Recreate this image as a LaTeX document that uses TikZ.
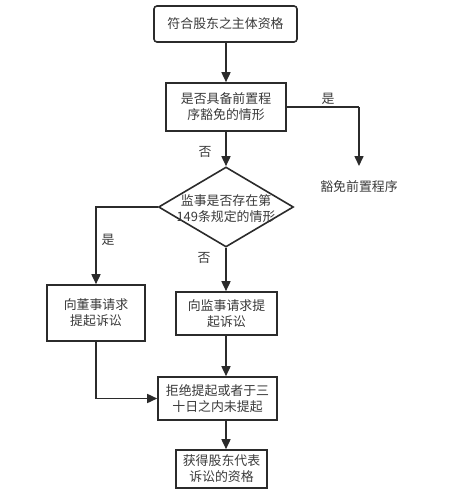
\documentclass[tikz,border=0pt]{standalone}
\usepackage{fontspec}
\setmainfont{Noto Sans CJK SC}
\usetikzlibrary{shapes.geometric,arrows.meta}
\definecolor{ln}{HTML}{2B2B2B}
\definecolor{tx}{HTML}{3A3A3A}
\tikzset{
  box/.style={draw=ln, line width=1.6pt, fill=white, align=center, inner sep=0pt, text=tx, font=\fontsize{12.9pt}{16pt}\selectfont},
  conn/.style={draw=ln, line width=1.6pt, -{Triangle[length=10pt,width=9pt]}},
  plain/.style={draw=ln, line width=1.6pt},
  lbl/.style={text=tx, font=\fontsize{12.9pt}{16pt}\selectfont, inner sep=0pt}
}
\begin{document}
\begin{tikzpicture}[x=1pt,y=-1pt]
\useasboundingbox (0,0) rectangle (449,495);
\node[box, rounded corners=3pt, minimum width=143pt, minimum height=36pt] (b1) at (225.5,24) {符合股东之主体资格};
\node[box, minimum width=120pt, minimum height=48pt] (b2) at (226,107) {是否具备前置程\\序豁免的情形};
\node[draw=ln, line width=1.6pt, fill=white, diamond, minimum width=135pt, minimum height=80pt, inner sep=0pt] (d) at (226,207) {};
\node[lbl, align=center] (dt) at (226,208.5) {监事是否存在第\\149条规定的情形};
\node[box, minimum width=98pt, minimum height=56pt] (bl) at (96,313) {向董事请求\\提起诉讼};
\node[box, minimum width=101pt, minimum height=43pt] (br) at (226.5,313.5) {向监事请求提\\起诉讼};
\node[box, minimum width=119pt, minimum height=43pt] (b4) at (217.5,398.5) {拒绝提起或者于三\\十日之内未提起};
\node[box, minimum width=91pt, minimum height=38pt] (b5) at (221.5,469) {获得股东代表\\诉讼的资格};
\node[lbl] (ex) at (359,187) {豁免前置程序};
\coordinate (exTop) at (359,166);
\coordinate (ri) at (359,107);
\node[lbl] (yes1) at (328,99) {是};
\node[lbl] (no1) at (205,152) {否};
\node[lbl] (yes2) at (108,240) {是};
\node[lbl] (no2) at (204,258) {否};
\draw[conn] (b1.south -| 226,0) -- (b2.north -| 226,0);
\draw[conn] (b2.south -| 226,0) -- (d.north);
\draw[plain] (b2.east) -- (ri);
\draw[conn] (ri) -- (exTop);
\draw[conn] (d.west) -| (bl.north);
\draw[conn] (d.south) -- (br.north -| d.south);
\draw[conn] (bl.south) |- (b4.west);
\draw[conn] (br.south -| 226,0) -- (b4.north -| 226,0);
\draw[conn] (b4.south -| 226,0) -- (b5.north -| 226,0);
\end{tikzpicture}
\end{document}
